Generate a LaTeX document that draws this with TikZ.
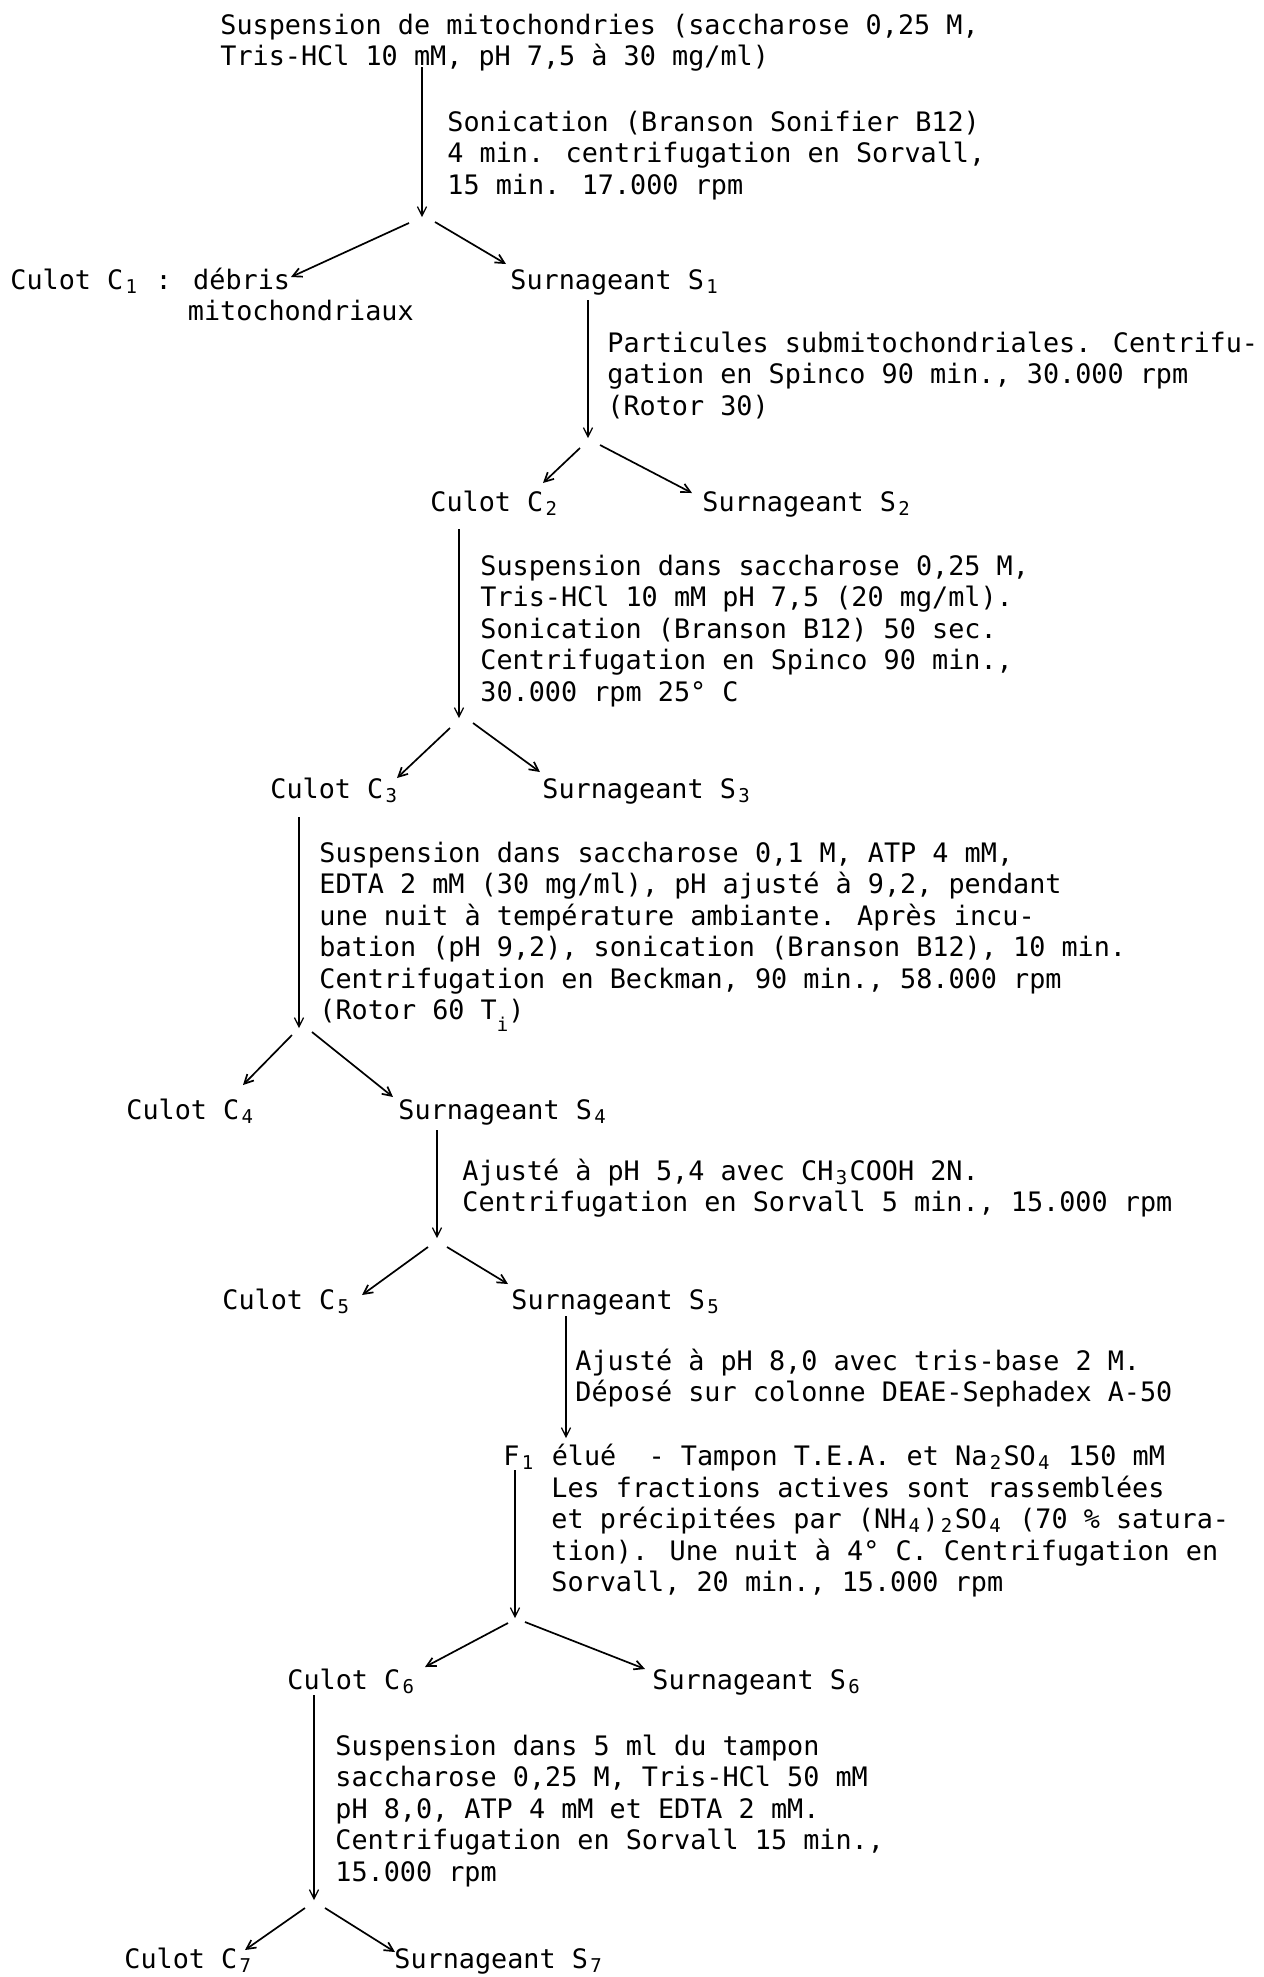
\documentclass[tikz,border=0pt]{standalone}
\usepackage{fontspec}
\newfontfamily\monof{DejaVu Sans Mono}
\usetikzlibrary{arrows.meta}
\newcommand\sbx[1]{\makebox[0.602em][c]{\raisebox{-0.15em}{\fontsize{9.5pt}{9.5pt}\selectfont #1}}}
\newcommand\sbxlow[1]{\raisebox{-0.42em}{\fontsize{9.5pt}{9.5pt}\selectfont #1}}
\begin{document}
\begin{tikzpicture}[x=0.5pt,y=-0.5pt,
  txt/.style={font=\monof\fontsize{13.4pt}{15.75pt}\selectfont, inner sep=0pt, anchor=base west},
  blk/.style={txt, align=left, anchor=north west},
  arr/.style={-{Straight Barb[length=4.5pt,width=4.6pt]}, line width=0.65pt},
  br/.style={arr, line width=0.85pt}]
\useasboundingbox[fill=white] (0,0) rectangle (1264,1977);

% texts
\node[blk] (t0) at (220,12) {\strut Suspension de mitochondries (saccharose 0,25 M,\\Tris-HCl 10 mM, pH 7,5 à 30 mg/ml)};
\node[blk] (d1) at (447,109) {\strut Sonication (Branson Sonifier B12)\\4 min. centrifugation en Sorvall,\\15 min. 17.000 rpm};
\node[blk] (c1) at (10,267) {\strut Culot C\sbx{1} : débris\\\hspace*{6.622em}mitochondriaux};
\node[txt] (s1) at (510,289) {Surnageant S\sbx{1}};

\node[blk] (d2) at (607,330) {\strut Particules submitochondriales. Centrifu-\\gation en Spinco 90 min., 30.000 rpm\\(Rotor 30)};
\node[txt] (c2) at (430,511) {Culot C\sbx{2}};
\node[txt] (s2) at (702,511) {Surnageant S\sbx{2}};

\node[blk] (d3) at (480,553) {\strut Suspension dans saccharose 0,25 M,\\Tris-HCl 10 mM pH 7,5 (20 mg/ml).\\Sonication (Branson B12) 50 sec.\\Centrifugation en Spinco 90 min.,\\30.000 rpm 25° C};
\node[txt] (c3) at (270,798) {Culot C\sbx{3}};
\node[txt] (s3) at (542,798) {Surnageant S\sbx{3}};

\node[blk] (d4) at (319,840) {\strut Suspension dans saccharose 0,1 M, ATP 4 mM,\\EDTA 2 mM (30 mg/ml), pH ajusté à 9,2, pendant\\une nuit à température ambiante. Après incu-\\bation (pH 9,2), sonication (Branson B12), 10 min.\\Centrifugation en Beckman, 90 min., 58.000 rpm\\(Rotor 60 T\sbxlow{i})};
\node[txt] (c4) at (126,1119) {Culot C\sbx{4}};
\node[txt] (s4) at (398,1119) {Surnageant S\sbx{4}};

\node[blk] (d5) at (462,1158) {\strut Ajusté à pH 5,4 avec CH\sbx{3}COOH 2N.\\Centrifugation en Sorvall 5 min., 15.000 rpm};
\node[txt] (c5) at (222,1309) {Culot C\sbx{5}};
\node[txt] (s5) at (511,1309) {Surnageant S\sbx{5}};

\node[blk] (d6) at (575,1348) {\strut Ajusté à pH 8,0 avec tris-base 2 M.\\Déposé sur colonne DEAE-Sephadex A-50};
\node[txt] (f1) at (503,1465) {F\sbx{1} élué\ \ - Tampon T.E.A. et Na\sbx{2}SO\sbx{4} 150 mM};
\node[blk] (df) at (551,1475) {\strut Les fractions actives sont rassemblées\\et précipitées par (NH\sbx{4})\sbx{2}SO\sbx{4} (70 \% satura-\\tion). Une nuit à 4° C. Centrifugation en\\Sorvall, 20 min., 15.000 rpm};
\node[txt] (c6) at (287,1689) {Culot C\sbx{6}};
\node[txt] (s6) at (652,1689) {Surnageant S\sbx{6}};

\node[blk] (d7) at (335,1733) {\strut Suspension dans 5 ml du tampon\\saccharose 0,25 M, Tris-HCl 50 mM\\pH 8,0, ATP 4 mM et EDTA 2 mM.\\Centrifugation en Sorvall 15 min.,\\15.000 rpm};
\node[txt] (c7) at (124,1968) {Culot C\sbx{7}};
\node[txt] (s7) at (394,1968) {Surnageant S\sbx{7}};

% vertical arrows: start under a text, end at the split point
\coordinate (v1a) at (422,67);   \coordinate (v1b) at (422,217);
\coordinate (v2a) at (588,300);  \coordinate (v2b) at (588,438);
\coordinate (v3a) at (459,529);  \coordinate (v3b) at (459,718);
\coordinate (v4a) at (299,817);  \coordinate (v4b) at (299,1028);
\coordinate (v5a) at (437,1130); \coordinate (v5b) at (437,1238);
\coordinate (v6a) at (566,1316); \coordinate (v6b) at (566,1438);
\coordinate (vfa) at (515,1470); \coordinate (vfb) at (515,1618);
\coordinate (v7a) at (314,1695); \coordinate (v7b) at (314,1900);

\draw[arr] (v1a) -- (v1b);
\draw[arr] (v2a) -- (v2b);
\draw[arr] (v3a) -- (v3b);
\draw[arr] (v4a) -- (v4b);
\draw[arr] (v5a) -- (v5b);
\draw[arr] (v6a) -- (v6b);
\draw[arr] (vfa) -- (vfb);
\draw[arr] (v7a) -- (v7b);

% branches
\coordinate (b1l) at (409,223); \coordinate (e1l) at (291,277);
\coordinate (b1r) at (435,222); \coordinate (e1r) at (506,264);
\coordinate (b2l) at (580,448); \coordinate (e2l) at (543,483);
\coordinate (b2r) at (600,445); \coordinate (e2r) at (692,493);
\coordinate (b3l) at (450,728); \coordinate (e3l) at (397,778);
\coordinate (b3r) at (473,723); \coordinate (e3r) at (540,772);
\coordinate (b4l) at (292,1035); \coordinate (e4l) at (243,1085);
\coordinate (b4r) at (312,1032); \coordinate (e4r) at (393,1097);
\coordinate (b5l) at (428,1247); \coordinate (e5l) at (362,1295);
\coordinate (b5r) at (447,1247); \coordinate (e5r) at (508,1284);
\coordinate (b6l) at (508,1623); \coordinate (e6l) at (425,1667);
\coordinate (b6r) at (525,1622); \coordinate (e6r) at (645,1669);
\coordinate (b7l) at (305,1908); \coordinate (e7l) at (245,1950);
\coordinate (b7r) at (325,1908); \coordinate (e7r) at (395,1952);

\foreach \k in {1,...,7}{
  \draw[br] (b\k l) -- (e\k l);
  \draw[br] (b\k r) -- (e\k r);
}
\end{tikzpicture}
\end{document}
